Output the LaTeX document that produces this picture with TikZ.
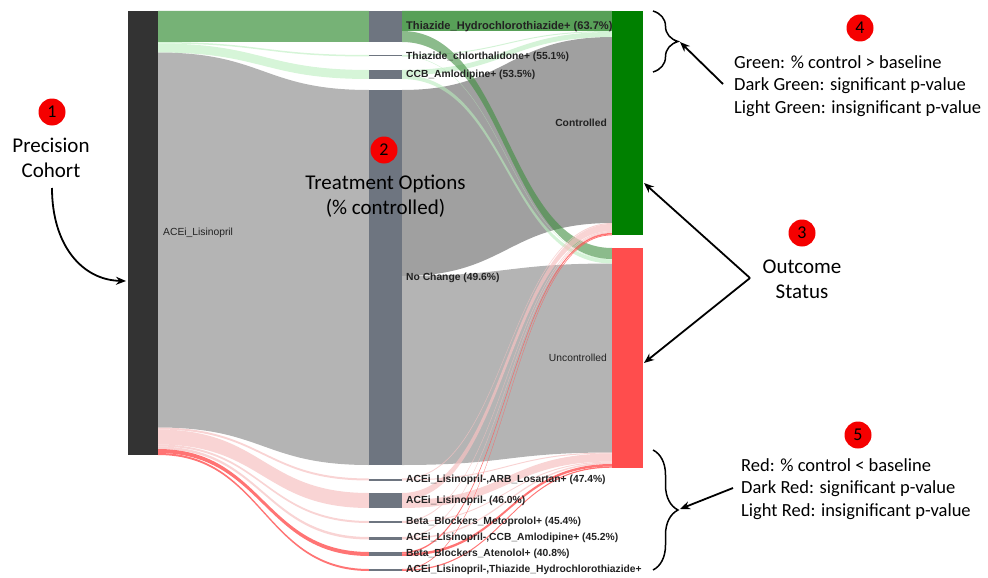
\documentclass[tikz,border=0pt]{standalone}
\usepackage{fontspec}
\setmainfont{Carlito}
\newfontfamily\lab{Liberation Sans}
\usetikzlibrary{arrows.meta,decorations.pathreplacing}
\definecolor{cohortc}{HTML}{333333}
\definecolor{midc}{HTML}{6E7580}
\definecolor{ctrlc}{HTML}{008000}
\definecolor{uncc}{HTML}{FF4D4D}
\definecolor{gdark}{HTML}{76B276}
\definecolor{gright}{HTML}{58A058}
\definecolor{gdarkR}{HTML}{3E8E3E}
\definecolor{glight}{HTML}{D6F5D8}
\definecolor{glight2}{HTML}{B8EBBC}
\definecolor{grayA}{HTML}{B4B4B4}
\definecolor{grayB}{HTML}{A0A0A0}
\definecolor{pinkl}{HTML}{F6C2C2}
\definecolor{reds}{HTML}{FF5C5C}
\definecolor{txtc}{HTML}{222222}
\definecolor{circc}{HTML}{F50000}
\newcommand\sk[7]{\fill[#7] (#1,#2) .. controls ({0.5*(#1+#4)},#2) and ({0.5*(#1+#4)},#5) .. (#4,#5) -- (#4,#6) .. controls ({0.5*(#1+#4)},#6) and ({0.5*(#1+#4)},#3) .. (#1,#3) -- cycle;}
\tikzset{
  bar/.style={draw=none, inner sep=0pt, outer sep=0pt, rectangle},
  lbl/.style={font=\lab\bfseries\fontsize{10.3}{12}\selectfont, text=txtc, inner sep=0pt, anchor=west},
  lblr/.style={font=\lab\fontsize{10.3}{12}\selectfont, text=txtc, inner sep=0pt},
  circ/.style={circle, fill=circc, minimum size=27pt, inner sep=0pt, font=\fontsize{18}{18}\selectfont},
  bigtxt/.style={align=center, font=\fontsize{21}{25}\selectfont, inner sep=0pt},
  legtxt/.style={align=left, anchor=west, font=\fontsize{18.5}{22.5}\selectfont, inner sep=0pt},
  arr/.style={-{Stealth[length=10pt,width=8pt]}, line width=1.8pt},
  bracestyle/.style={decorate, decoration={brace, amplitude=25pt, aspect=0.5}, line width=1.5pt},
  pk/.style={fill=pinkl, opacity=.7},
  rd/.style={fill=reds, opacity=.85},
  gl/.style={fill=glight2, opacity=.6}
}
\begin{document}
\begin{tikzpicture}[x=1pt,y=-1pt]
\useasboundingbox (0,0) rectangle (988,578);
% ---- links cohort -> treatments
\sk{158}{11}{42}{369}{11}{42}{gdark}
\sk{158}{42}{43.5}{369}{55}{56.5}{glight}
\sk{158}{43.5}{52.5}{369}{70}{79}{glight}
\sk{158}{52.5}{427.5}{369}{90}{465}{grayA}
\sk{158}{427.5}{429.5}{369}{478.5}{480.5}{pk}
\sk{158}{429.5}{444.5}{369}{493}{508}{pk}
\sk{158}{444.5}{446.5}{369}{521}{523}{pk}
\sk{158}{446.5}{449}{369}{537}{539.5}{pk}
\sk{158}{449}{453}{369}{552}{556}{rd}
\sk{158}{453}{455}{369}{569}{571}{rd}
% ---- links treatments -> outcome
\sk{402}{90}{276}{612}{37}{223}{grayB}
\sk{402}{276}{465}{612}{263.5}{452.5}{grayA}
\sk{402}{11}{31}{612}{11}{31}{gright}
\sk{402}{55}{56}{612}{31}{32}{gl}
\sk{402}{70}{75}{612}{32}{37}{gl}
\sk{402}{56}{56.5}{612}{259}{259.5}{gl}
\sk{402}{75}{79}{612}{259.5}{263.5}{gl}
\sk{402}{31}{42}{612}{248}{259}{fill=gdarkR,opacity=.6}
\sk{402}{478.5}{479.5}{612}{223}{224}{pk}
\sk{402}{479.5}{480.5}{612}{452.5}{453.5}{pk}
\sk{402}{493}{500}{612}{224}{231}{pk}
\sk{402}{500}{508}{612}{453.5}{461.5}{pk}
\sk{402}{521}{522}{612}{231}{232}{pk}
\sk{402}{522}{523}{612}{461.5}{462.5}{pk}
\sk{402}{537}{538}{612}{232}{233}{pk}
\sk{402}{538}{539.5}{612}{462.5}{464}{pk}
\sk{402}{552}{553.5}{612}{233}{234.5}{rd}
\sk{402}{553.5}{556}{612}{464}{466.5}{rd}
\sk{402}{569}{569.8}{612}{234.5}{235.3}{rd}
\sk{402}{569.8}{571}{612}{466.5}{467.7}{rd}
% ---- bars
\node[bar, fill=cohortc, minimum width=30pt, minimum height=444pt] (cohort) at (143,233) {};
\node[bar, fill=midc, minimum width=33pt, minimum height=31pt] (th) at (385.5,26.5) {};
\node[bar, fill=midc, minimum width=33pt, minimum height=1.5pt] (tc) at (385.5,55.75) {};
\node[bar, fill=midc, minimum width=33pt, minimum height=9pt] (ccb) at (385.5,74.5) {};
\node[bar, fill=midc, minimum width=33pt, minimum height=375pt] (nc) at (385.5,277.5) {};
\node[bar, fill=midc, minimum width=33pt, minimum height=2pt] (arb) at (385.5,479.5) {};
\node[bar, fill=midc, minimum width=33pt, minimum height=15pt] (acei) at (385.5,500.5) {};
\node[bar, fill=midc, minimum width=33pt, minimum height=2pt] (meto) at (385.5,522) {};
\node[bar, fill=midc, minimum width=33pt, minimum height=2.5pt] (aceiccb) at (385.5,538.25) {};
\node[bar, fill=midc, minimum width=33pt, minimum height=4pt] (aten) at (385.5,554) {};
\node[bar, fill=midc, minimum width=33pt, minimum height=2pt] (thz) at (385.5,570) {};
\node[bar, fill=ctrlc, minimum width=31pt, minimum height=224.3pt] (ctrl) at (627.5,123.15) {};
\node[bar, fill=uncc, minimum width=31pt, minimum height=220pt] (unc) at (627.5,358) {};
% ---- labels
\node[lblr, anchor=west] (lcoh) at (163,233) {ACEi\_Lisinopril};
\node[lbl, font=\lab\bfseries\fontsize{11.1}{13}\selectfont] (lth) at (406,27) {Thiazide\_Hydrochlorothiazide+ (63.7\%)};
\node[lbl] (ltc) at (406,56.5) {Thiazide\_chlorthalidone+ (55.1\%)};
\node[lbl] (lccb) at (406,74.5) {CCB\_Amlodipine+ (53.5\%)};
\node[lbl] (lnc) at (406,278) {No Change (49.6\%)};
\node[lbl] (larb) at (406,479.5) {ACEi\_Lisinopril-,ARB\_Losartan+ (47.4\%)};
\node[lbl] (lacei) at (406,500.5) {ACEi\_Lisinopril- (46.0\%)};
\node[lbl] (lmeto) at (406,522) {Beta\_Blockers\_Metoprolol+ (45.4\%)};
\node[lbl] (laceiccb) at (406,538.3) {ACEi\_Lisinopril-,CCB\_Amlodipine+ (45.2\%)};
\node[lbl] (laten) at (406,554) {Beta\_Blockers\_Atenolol+ (40.8\%)};
\node[lbl] (lthz) at (406,570) {ACEi\_Lisinopril-,Thiazide\_Hydrochlorothiazide+};
\node[lbl, anchor=east] (lctrl) at (607,123) {Controlled};
\node[lblr, anchor=east] (lunc) at (607,358) {Uncontrolled};
% ---- annotations
\node[circ] (c1) at (52,112) {1};
\node[bigtxt] (t1) at (51,157.5) {Precision\\Cohort};
\coordinate (a1s) at (52,188);
\coordinate (a1e) at (126,281);
\draw[arr] (a1s) .. controls (52,245) and (82,280) .. (a1e);
\node[circ] (c2) at (384,150) {2};
\node[bigtxt] (t2) at (385.5,196.5) {Treatment Options\\(\% controlled)};
\node[circ] (c3) at (802,233) {3};
\node[bigtxt] (t3) at (802,279.5) {Outcome\\Status};
\coordinate (v3) at (750,278);
\coordinate (t3a) at (644,183);
\coordinate (t3b) at (644,363);
\draw[arr] (v3) -- (t3a);
\draw[arr] (v3) -- (t3b);
\node[circ] (c4) at (860,28) {4};
\node[legtxt] (t4) at (734,86) {Green: \% control > baseline\\Dark Green: significant p-value\\Light Green: insignificant p-value};
\coordinate (b4s) at (653,11);
\coordinate (b4e) at (653,72);
\draw[bracestyle] (b4s) -- (b4e);
\coordinate (b4tip) at (680,42);
\coordinate (a4s) at (723,84);
\draw[arr] (a4s) -- (b4tip);
\node[circ] (c5) at (858,435) {5};
\node[legtxt] (t5) at (741,489) {Red: \% control < baseline\\Dark Red: significant p-value\\Light Red: insignificant p-value};
\coordinate (b5s) at (653,450);
\coordinate (b5e) at (653,570);
\draw[bracestyle] (b5s) -- (b5e);
\coordinate (b5tip) at (680,509);
\coordinate (a5s) at (733,488);
\draw[arr] (a5s) -- (b5tip);
\end{tikzpicture}
\end{document}
